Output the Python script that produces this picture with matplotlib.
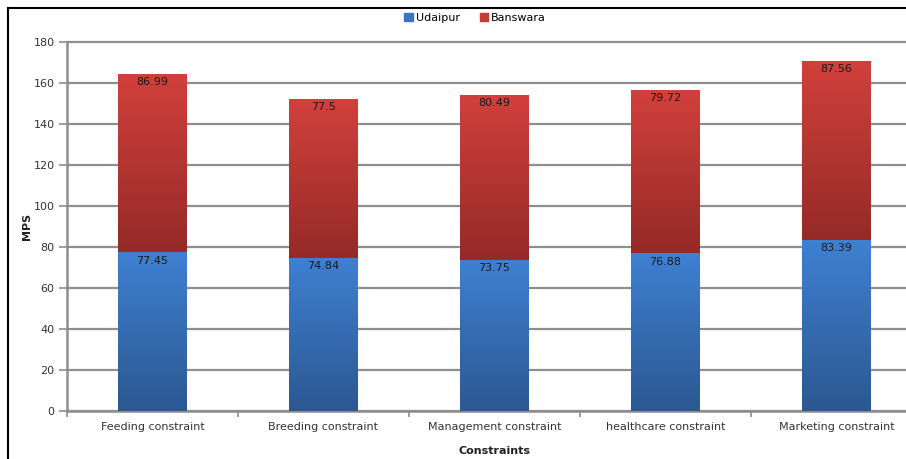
import numpy as np
import matplotlib.pyplot as plt
from matplotlib.lines import Line2D
from matplotlib.patches import Patch

categories = ['Feeding constraint', 'Breeding constraint', 'Management constraint',
              'healthcare constraint', 'Marketing constraint']
udaipur = [77.45, 74.84, 73.75, 76.88, 83.39]
banswara = [86.99, 77.5, 80.49, 79.72, 87.56]
yticks = [0, 20, 40, 60, 80, 100, 120, 140, 160, 180]

W, H = 906, 459
fig = plt.figure(figsize=(W / 100, H / 100), dpi=100)
ax = fig.add_axes([67 / W, 48 / H, 855 / W, 369 / H])

x = np.arange(len(categories))
bw = 0.4

grad = np.linspace(0, 1, 256).reshape(-1, 1)


def grad_bar(xc, bottom, height, top_col, bot_col):
    # vertical gradient clipped to the bar rectangle
    bar = ax.bar(xc, height, bw, bottom=bottom, color='none', edgecolor='none', zorder=3)[0]
    c0 = np.array(plt.matplotlib.colors.to_rgb(bot_col))
    c1 = np.array(plt.matplotlib.colors.to_rgb(top_col))
    img = c0 + (c1 - c0) * grad[..., None]
    im = ax.imshow(img, extent=[xc - bw / 2, xc + bw / 2, bottom, bottom + height],
                   origin='lower', aspect='auto', zorder=3, interpolation='bilinear')
    im.set_clip_path(bar)
    return bar


for i in range(len(categories)):
    grad_bar(x[i], 0, udaipur[i], '#3f80d2', '#2b5891')
    grad_bar(x[i], udaipur[i], banswara[i], '#d2403c', '#952a27')
    ax.text(x[i], udaipur[i] - 1.6, f'{udaipur[i]:g}', ha='center', va='top',
            fontsize=8, color='#1a1a1a', zorder=5)
    ax.text(x[i], udaipur[i] + banswara[i] - 1.6, f'{banswara[i]:g}', ha='center', va='top',
            fontsize=8, color='#1a1a1a', zorder=5)

ax.set_xlim(-0.5, len(categories) - 0.5)
ax.set_ylim(0, 180)
ax.set_yticks(yticks)
ax.yaxis.grid(True, color='#8e8e8e', linewidth=1.6, zorder=0)
for gl in ax.get_ygridlines():
    gl.set_clip_on(False)
ax.set_axisbelow(True)

ax.set_xticks(np.arange(-0.5, len(categories), 1))
ax.set_xticklabels([])
ax.set_xticks(x, minor=True)
ax.set_xticklabels(categories, minor=True, fontsize=8, color='#333333')
ax.tick_params(axis='x', which='minor', length=0, pad=8)
ax.tick_params(axis='x', which='major', length=4, width=1.2, color='#8e8e8e')
ax.tick_params(axis='y', length=6, width=1.2, color='#8e8e8e', labelsize=8,
               labelcolor='#333333', pad=3)

for s in ['top', 'right']:
    ax.spines[s].set_visible(False)
for s in ['left', 'bottom']:
    ax.spines[s].set_color('#8e8e8e')
    ax.spines[s].set_linewidth(1.8)

ax.set_ylabel('MPS', fontsize=8, fontweight='bold', color='#222222')
ax.yaxis.set_label_coords((32 - 67) / 855, 0.5)
ax.set_xlabel('Constraints', fontsize=8, fontweight='bold', color='#222222')
ax.xaxis.set_label_coords(0.5, (411 - 446) / 369)

handles = [Patch(facecolor='#3a74c0', edgecolor='#3a74c0', label='Udaipur'),
           Patch(facecolor='#c43a36', edgecolor='#c43a36', label='Banswara')]
fig.legend(handles=handles, loc='center', bbox_to_anchor=(475 / W, 1 - 18 / H), ncol=2,
           frameon=False, fontsize=8, handlelength=0.8, handleheight=0.8,
           handletextpad=0.2, columnspacing=1.8)

# outer frame
fig.add_artist(Line2D([8 / W, 8 / W], [0, 1 - 8 / H], color='black', linewidth=1.5,
                      transform=fig.transFigure))
fig.add_artist(Line2D([8 / W, 1], [1 - 8 / H, 1 - 8 / H], color='black', linewidth=1.5,
                      transform=fig.transFigure))

fig.savefig('out.png', dpi=100)
